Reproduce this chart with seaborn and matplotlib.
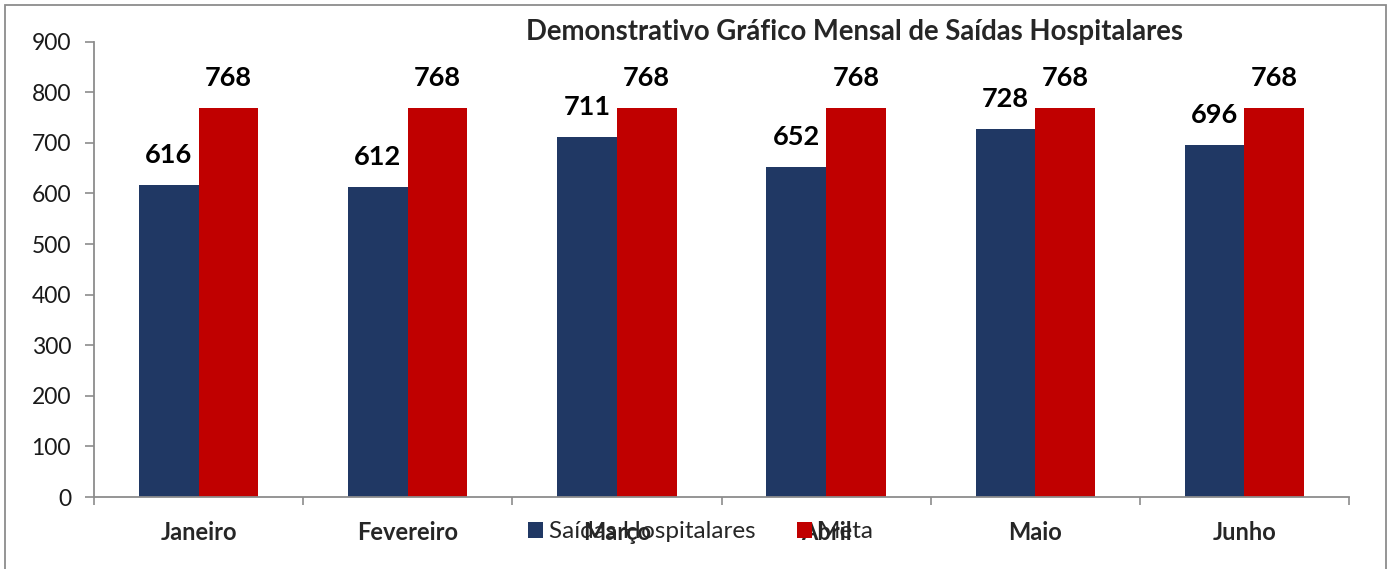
import numpy as np
import pandas as pd
import matplotlib
matplotlib.use("Agg")
import matplotlib.pyplot as plt
from matplotlib.patches import Rectangle, Patch
import seaborn as sns

# dados do demonstrativo
meses = ["Janeiro", "Fevereiro", "Março", "Abril", "Maio", "Junho"]
saidas = [616, 612, 711, 652, 728, 696]
meta = [768, 768, 768, 768, 768, 768]
series = ["Saídas Hospitalares", "Meta"]
cores = ["#203864", "#C00000"]

df = pd.DataFrame({
    "mes": meses * 2,
    "valor": saidas + meta,
    "serie": [series[0]] * len(meses) + [series[1]] * len(meses),
})

sns.set_style("white")
plt.rcParams["font.family"] = ["Lato", "DejaVu Sans"]

fig = plt.figure(figsize=(13.92, 5.69), dpi=100)
ax = fig.add_axes([94 / 1392, 1 - 497 / 569, (1349 - 94) / 1392, (497 - 41.7) / 569])

sns.barplot(data=df, x="mes", y="valor", hue="serie", palette=cores,
            width=0.57, saturation=1, ax=ax, errorbar=None, linewidth=0)
ax.get_legend().remove()

for cont in ax.containers:
    ax.bar_label(cont, fmt="%d", padding=13, fontsize=19.5, fontweight="bold", color="black")

ax.set_ylim(0, 900)
ax.set_yticks(np.arange(0, 901, 100))
ax.set_xlim(-0.5, len(meses) - 0.5)
ax.set_xlabel("")
ax.set_ylabel("")

for s in ["top", "right"]:
    ax.spines[s].set_visible(False)
for s in ["left", "bottom"]:
    ax.spines[s].set_color("#8c8c8c")
    ax.spines[s].set_linewidth(1.3)

ax.tick_params(axis="y", length=6.5, width=1.2, color="#8c8c8c", labelsize=16.5,
               labelcolor="#1a1a1a", pad=10, direction="out", left=True)
ax.set_xticks(np.arange(-0.5, len(meses)), minor=True)
ax.tick_params(axis="x", which="minor", length=6, width=1.2, color="#8c8c8c", direction="out", bottom=True)
ax.tick_params(axis="x", which="major", length=0, pad=17, labelsize=17)
for lbl in ax.get_xticklabels():
    lbl.set_fontweight("bold")

fig.text(855 / 1392, 1 - 32 / 569, "Demonstrativo Gráfico Mensal de Saídas Hospitalares",
         ha="center", va="center", fontsize=19.8, fontweight="bold")

handles = [Patch(facecolor=c, edgecolor="none") for c in cores]
fig.legend(handles, series, loc="center", bbox_to_anchor=(701 / 1392, 1 - 532 / 569),
           ncol=2, frameon=False, fontsize=17.5, handlelength=0.6, handleheight=0.6,
           handletextpad=0.25, columnspacing=1.7)

fig.patches.append(Rectangle((5 / 1392, -0.05), (1386 - 5) / 1392, 1.05 - 5 / 569,
                             transform=fig.transFigure, fill=False,
                             edgecolor="#8c8c8c", linewidth=1.3))

fig.savefig("out.png", dpi=100)
